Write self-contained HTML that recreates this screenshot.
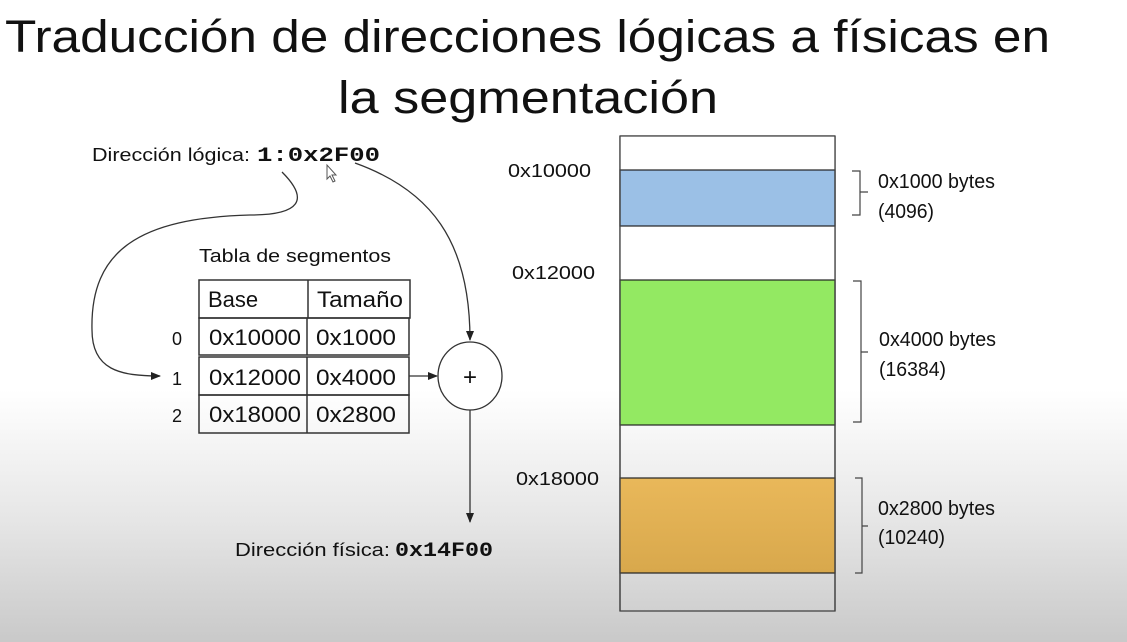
<!DOCTYPE html>
<html><head><meta charset="utf-8"><style>
html,body{margin:0;padding:0;width:1127px;height:642px;overflow:hidden}
body{background:linear-gradient(to bottom,#fff 0,#fff 390px,#e6e6e6 520px,#c9c9c9 642px)}
svg{position:absolute;left:0;top:0}
text{font-family:"Liberation Sans",sans-serif;fill:#111}
.m{font-family:"Liberation Mono",monospace;font-weight:bold}
</style></head><body>
<svg width="1127" height="642" viewBox="0 0 1127 642">
<defs><marker id="a" markerWidth="10" markerHeight="8" refX="9" refY="4" orient="auto" markerUnits="userSpaceOnUse"><path d="M0,0 L10,4 L0,8 z" fill="#222"/></marker></defs>
<text x="5" y="52" font-size="45" textLength="1045" lengthAdjust="spacingAndGlyphs" style="font-weight:300" fill="#222">Traducción de direcciones lógicas a físicas en</text>
<text x="338" y="113" font-size="45" textLength="380" lengthAdjust="spacingAndGlyphs" fill="#222">la segmentación</text>
<text x="92" y="161" font-size="18" textLength="158" lengthAdjust="spacingAndGlyphs">Dirección lógica:</text>
<text x="257" y="161" class="m" font-size="20" textLength="123" lengthAdjust="spacingAndGlyphs">1:0x2F00</text>
<path d="M282,172 C310,200 300,215 250,215 C140,218 90,250 92,330 C92,370 120,376 160,376" fill="none" stroke="#333" stroke-width="1.3" marker-end="url(#a)"/>
<path d="M355,163 C430,190 470,240 470,340" fill="none" stroke="#333" stroke-width="1.3" marker-end="url(#a)"/>
<text x="199" y="262" font-size="18" textLength="192" lengthAdjust="spacingAndGlyphs">Tabla de segmentos</text>
<g fill="none" stroke="#333" stroke-width="1.5">
<rect x="199" y="280" width="211" height="38"/><line x1="308" y1="280" x2="308" y2="318"/>
<rect x="199" y="318" width="210" height="37"/><line x1="307" y1="318" x2="307" y2="355"/>
<rect x="199" y="357" width="210" height="38"/><line x1="307" y1="357" x2="307" y2="395"/>
<rect x="199" y="395" width="210" height="38"/><line x1="307" y1="395" x2="307" y2="433"/>
</g>
<g font-size="22">
<text x="208" y="307">Base</text><text x="317" y="307" textLength="86" lengthAdjust="spacingAndGlyphs">Tamaño</text>
<text x="209" y="345" textLength="92" lengthAdjust="spacingAndGlyphs">0x10000</text><text x="316" y="345" textLength="80" lengthAdjust="spacingAndGlyphs">0x1000</text>
<text x="209" y="385" textLength="92" lengthAdjust="spacingAndGlyphs">0x12000</text><text x="316" y="385" textLength="80" lengthAdjust="spacingAndGlyphs">0x4000</text>
<text x="209" y="422" textLength="92" lengthAdjust="spacingAndGlyphs">0x18000</text><text x="316" y="422" textLength="80" lengthAdjust="spacingAndGlyphs">0x2800</text>
<text x="172" y="345" font-size="18">0</text><text x="172" y="385" font-size="18">1</text><text x="172" y="422" font-size="18">2</text>
</g>
<line x1="409" y1="376" x2="437" y2="376" stroke="#333" stroke-width="1.3" marker-end="url(#a)"/>
<ellipse cx="470" cy="376" rx="32" ry="34" fill="#fff" stroke="#333" stroke-width="1.3"/>
<text x="470" y="385" font-size="24" text-anchor="middle">+</text>
<line x1="470" y1="410" x2="470" y2="522" stroke="#333" stroke-width="1.3" marker-end="url(#a)"/>
<text x="235" y="556" font-size="18" textLength="155" lengthAdjust="spacingAndGlyphs">Dirección física:</text>
<text x="395" y="556" class="m" font-size="20" textLength="98" lengthAdjust="spacingAndGlyphs">0x14F00</text>
<rect x="620" y="136" width="215" height="475" fill="none" stroke="#444" stroke-width="1.3"/>
<rect x="620" y="136" width="215" height="34" fill="#fff"/>
<rect x="620" y="226" width="215" height="54" fill="#fff"/>
<rect x="620" y="170" width="215" height="56" fill="#9bc0e6" stroke="#222" stroke-width="1.2"/>
<rect x="620" y="280" width="215" height="145" fill="#93e962" stroke="#222" stroke-width="1.2"/>
<linearGradient id="o" x1="0" y1="0" x2="0" y2="1"><stop offset="0" stop-color="#e9b85a"/><stop offset="1" stop-color="#d8a84c"/></linearGradient>
<rect x="620" y="478" width="215" height="95" fill="url(#o)" stroke="#222" stroke-width="1.2"/>
<line x1="620" y1="136" x2="620" y2="611" stroke="#444" stroke-width="1.3"/><line x1="835" y1="136" x2="835" y2="611" stroke="#444" stroke-width="1.3"/>
<line x1="620" y1="136" x2="835" y2="136" stroke="#444" stroke-width="1.3"/>
<g font-size="18">
<text x="508" y="177" textLength="83" lengthAdjust="spacingAndGlyphs">0x10000</text><text x="512" y="279" textLength="83" lengthAdjust="spacingAndGlyphs">0x12000</text><text x="516" y="485" textLength="83" lengthAdjust="spacingAndGlyphs">0x18000</text>
</g>
<g fill="none" stroke="#444" stroke-width="1.2">
<path d="M852,171 h8 v21 h8 M868,192 h-8 v23 h-8"/>
<path d="M853,281 h8 v141 h-8 M861,352 h7"/>
<path d="M855,478 h7 v95 h-7 M862,526 h6"/>
</g>
<g font-size="20">
<text x="878" y="188" textLength="117" lengthAdjust="spacingAndGlyphs">0x1000 bytes</text><text x="878" y="218" textLength="56" lengthAdjust="spacingAndGlyphs">(4096)</text>
<text x="879" y="346" textLength="117" lengthAdjust="spacingAndGlyphs">0x4000 bytes</text><text x="879" y="376" textLength="67" lengthAdjust="spacingAndGlyphs">(16384)</text>
<text x="878" y="515" textLength="117" lengthAdjust="spacingAndGlyphs">0x2800 bytes</text><text x="878" y="544" textLength="67" lengthAdjust="spacingAndGlyphs">(10240)</text>
</g>
<path d="M327,165 l0,14 l3,-3 l3,6 l2,-1 l-3,-6 l4,0 z" fill="#fff" stroke="#555" stroke-width="1"/>
</svg>
</body></html>
